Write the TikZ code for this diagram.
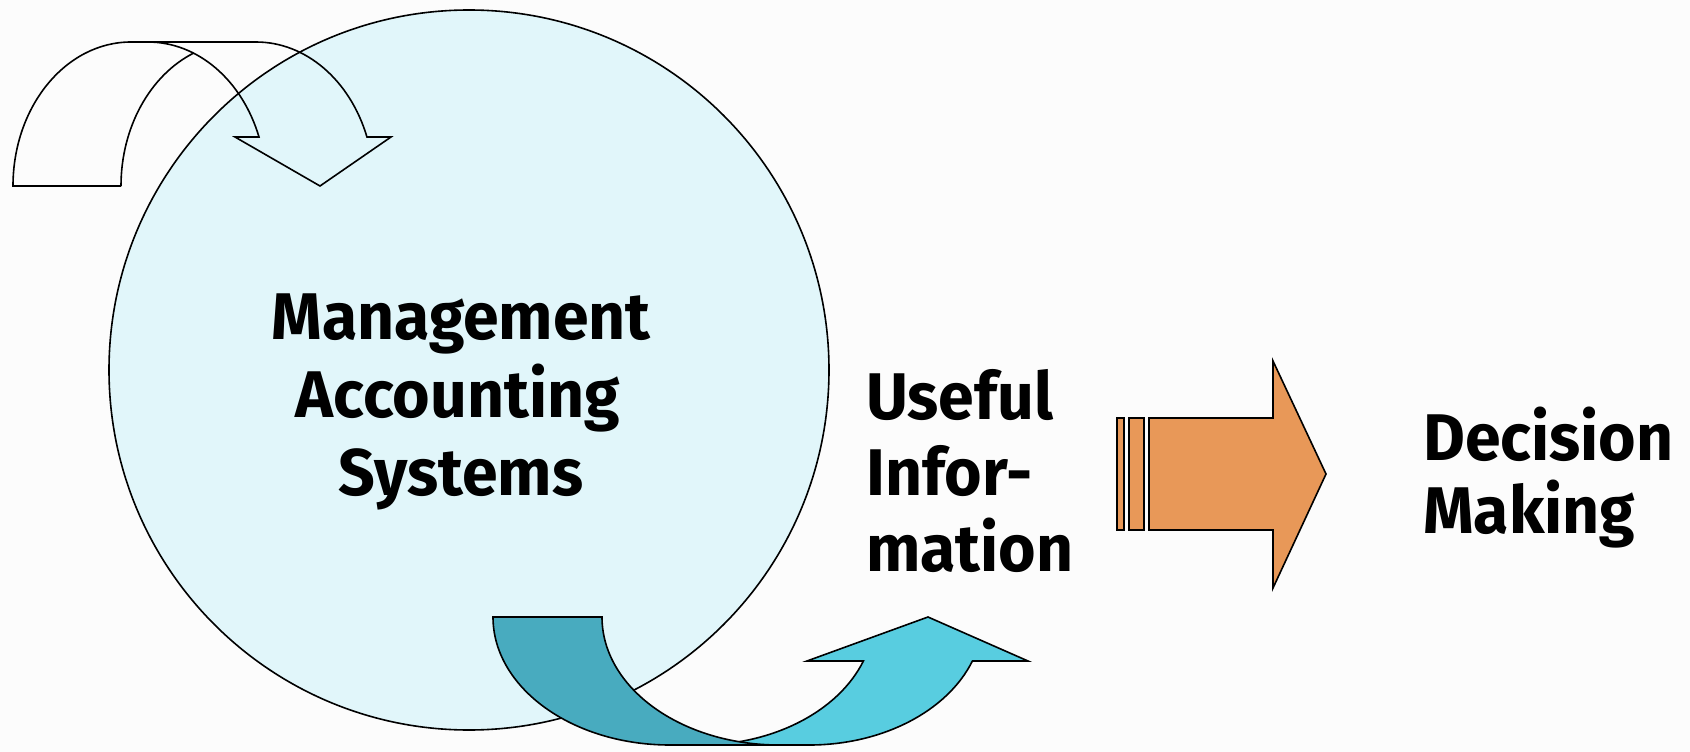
\documentclass[tikz,border=0pt]{standalone}
\usepackage{fontspec}
\setmainfont{Fira Sans}[FakeStretch=0.975]
\definecolor{circfill}{HTML}{E1F6FA}
\definecolor{darkteal}{HTML}{48ABBF}
\definecolor{lightteal}{HTML}{58CDE0}
\definecolor{orangeA}{HTML}{E89858}
\definecolor{bgcol}{HTML}{FCFCFC}
\begin{document}
\begin{tikzpicture}[x=1pt,y=-1pt,line join=miter,
  outl/.style={draw=black,line width=1.6pt},
  lbl/.style={inner sep=0pt,font=\fontsize{66}{78}\selectfont\bfseries}]
\fill[bgcol] (0,0) rectangle (1690,752);
\useasboundingbox (0,0) rectangle (1690,752);
% circle
\node[circle,draw=black,line width=1.6pt,fill=circfill,minimum size=720pt,inner sep=0pt] (mas) at (469,370) {};
\node[lbl,anchor=base] (t1) at (461,339) {Management};
\node[lbl,anchor=base] (t2) at (458,417) {Accounting};
\node[lbl,anchor=base] (t3) at (461,495) {Systems};
% top-left curved arrow (outline only)
\draw[outl] (121,186) -- (13,186)
  arc[start angle=180,end angle=270,x radius=118,y radius=144] -- (256,42)
  arc[start angle=270,end angle=340.1,x radius=118,y radius=144] -- (391,137) -- (320,186) -- (235,137) -- (259,137)
  arc[start angle=340.1,end angle=270,x radius=118,y radius=144];
\draw[outl] (121,186) arc[start angle=180,end angle=247.3,x radius=118,y radius=144];
% bottom curved arrow
\filldraw[outl,fill=lightteal] (700,745)
  arc[start angle=90,end angle=20.1,x radius=174,y radius=128] -- (807,661) -- (928,617) -- (1028,661) -- (972.4,661)
  arc[start angle=20.1,end angle=90,x radius=174,y radius=128] -- cycle;
\filldraw[outl,fill=darkteal] (493,617) -- (602,617)
  arc[start angle=180,end angle=90,x radius=177,y radius=128] -- (670,745)
  arc[start angle=90,end angle=180,x radius=177,y radius=128] -- cycle;
% striped arrow
\filldraw[outl,fill=orangeA] (1117,418) rectangle (1124,530);
\filldraw[outl,fill=orangeA] (1129,418) rectangle (1144,530);
\filldraw[outl,fill=orangeA] (1149,418) -- (1273,418) -- (1273,361) -- (1326,474) -- (1273,588) -- (1273,530) -- (1149,530) -- cycle;
% labels
\node[lbl,anchor=base west] (u1) at (866,419) {Useful};
\node[lbl,anchor=base west] (u2) at (866,495) {Infor-};
\node[lbl,anchor=base west] (u3) at (866,571) {mation};
\node[lbl,anchor=base west] (d1) at (1423,460) {Decision};
\node[lbl,anchor=base west] (d2) at (1423,533) {Making};
\end{tikzpicture}
\end{document}
